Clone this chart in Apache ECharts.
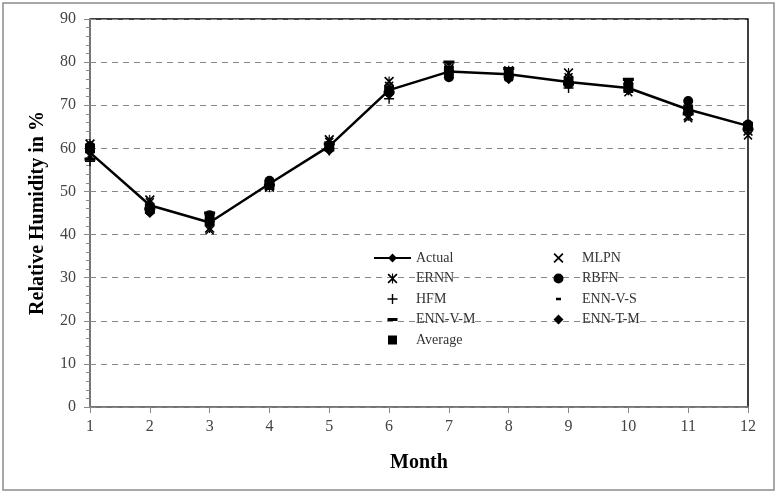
<!DOCTYPE html>
<html><head><meta charset="utf-8">
<script src="https://cdn.jsdelivr.net/npm/echarts@6/dist/echarts.min.js"></script>
<style>html,body{margin:0;padding:0;background:#fff}#c{width:779px;height:496px}</style>
</head><body><div id="c"></div>
<script>
var months = [1,2,3,4,5,6,7,8,9,10,11,12];
var actual  = [59, 46.8, 42.8, 51.8, 60.5, 73.5, 77.8, 77.2, 75.4, 74, 69, 65.2];
var mlpn    = [60, 47.5, 41, 52, 61.5, 74.5, 77, 76.5, 76.5, 73, 67, 63];
var ernn    = [61, 48, 41.5, 51, 62, 75.5, 78.5, 78, 77.5, 75, 67.5, 64];
var rbfn    = [60.5, 45.5, 44.5, 52.5, 60, 73, 76.5, 76.5, 75, 75, 71, 65.5];
var hfm     = [57, 46, 43, 51.5, 59.5, 71.5, 78, 77, 74, 73.5, 69, 65];
var ennVS   = [58, 45, 42.5, 51, 60, 73, 79.5, 78, 76, 75.5, 70, 66];
var ennVM   = [57.5, 46, 45, 51.5, 61, 73, 80, 78.5, 75, 76, 68, 64.5];
var ennTM   = [59.5, 45, 43.5, 52, 59.5, 72.5, 76.5, 76, 75.5, 73.5, 68.5, 65];
var average = [60, 46, 43, 51.5, 60.5, 73.5, 78, 77.5, 75.5, 74, 69, 65];
var yTicks = [0,10,20,30,40,50,60,70,80,90];

function pairs(v){ return months.map(function(m,i){ return [m, v[i]]; }); }
var FONT = '"Liberation Serif","Times New Roman",serif';
var BOX = 'M0,0L0.01,0L0,0.01Z M10,10L9.99,10L10,9.99Z ';
var SH = {
  x:    'M0,1.2L1.2,0L10,8.8L8.8,10Z M8.8,0L10,1.2L1.2,10L0,8.8Z',
  ast:  'M0,1.2L1.2,0L10,8.8L8.8,10Z M8.8,0L10,1.2L1.2,10L0,8.8Z M4.4,0H5.6V10H4.4Z',
  plus: 'M4.3,0H5.7V10H4.3Z M0,4.3H10V5.7H0Z',
  dashS:'M2.5,3.8H7.5V6.2H2.5Z',
  dashM:'M0,3.6H10V6.4H0Z',
  dia:  'M5,0L10,5L5,10L0,5Z',
  sq:   'M0.5,0.5H9.5V9.5H0.5Z'
};
function sym(k){ return 'path://' + BOX + SH[k]; }
function shiftPath(p, dx){
  return p.replace(/([MLH])([\d.]+)(,([\d.]+))?/g, function(m, c, a, rest, b){
    if (c === 'H') return c + (parseFloat(a)+dx);
    return c + (parseFloat(a)+dx) + (rest ? ','+b : '');
  });
}
function legIcon(k){
  if (k === 'circle') return 'path://M0,0L0.01,0L0,0.01Z M37,10L36.99,10L37,9.99Z M18.5,0A5,5 0 1 1 18.49,0Z';
  return 'path://M0,0L0.01,0L0,0.01Z M37,10L36.99,10L37,9.99Z ' + shiftPath(SH[k], 13.5);
}

function sc(name, data, symbol, size){
  return {name:name, type:'scatter', data:pairs(data), symbol:symbol, symbolSize:size,
    itemStyle:{color:'#000', opacity:1}, z:3};
}
var legText = {fontFamily:FONT, fontSize:14, color:'#333'};
var chart = echarts.init(document.getElementById('c'));
chart.setOption({
  animation:false,
  backgroundColor:'#fff',
  graphic:[{type:'rect', shape:{x:3,y:3,width:771,height:487}, style:{fill:'none', stroke:'#8c8c8c', lineWidth:1.5}}],
  grid:{left:90, right:31, top:19, bottom:89, show:true, borderColor:'#000', borderWidth:1.5, backgroundColor:'transparent'},
  legend:[
    {data:[{name:'Actual'},{name:'ERNN', icon:legIcon('ast')},{name:'HFM', icon:legIcon('plus')},
           {name:'ENN-V-M', icon:legIcon('dashM')},{name:'Average', icon:legIcon('sq')}],
     orient:'vertical', left:368, top:246, itemWidth:37, itemHeight:11, itemGap:6.5, textStyle:legText},
    {data:[{name:'MLPN', icon:legIcon('x')},{name:'RBFN', icon:legIcon('circle')},
           {name:'ENN-V-S', icon:legIcon('dashS')},{name:'ENN-T-M', icon:legIcon('dia')}],
     orient:'vertical', left:535, top:246, itemWidth:37, itemHeight:11, itemGap:6.5, textStyle:legText}
  ],
  xAxis:{type:'value', min:1, max:12, interval:1,
    name:'Month', nameLocation:'middle', nameGap:46,
    nameTextStyle:{fontFamily:FONT, fontSize:20, fontWeight:'bold', color:'#000'},
    axisLine:{lineStyle:{color:'#888', width:1.5}},
    axisTick:{show:true, length:6, lineStyle:{color:'#888'}},
    axisLabel:{fontFamily:FONT, fontSize:16, color:'#444', margin:12},
    splitLine:{show:false}},
  yAxis:{type:'value', min:0, max:90, interval:10,
    name:'Relative Humidity in %', nameLocation:'middle', nameGap:42,
    nameTextStyle:{fontFamily:FONT, fontSize:20, fontWeight:'bold', color:'#000'},
    axisLine:{show:true, lineStyle:{color:'#888', width:1.5}},
    axisTick:{show:true, length:6, lineStyle:{color:'#888'}},
    minorTick:{show:true, splitNumber:5, length:4, lineStyle:{color:'#888'}},
    axisLabel:{fontFamily:FONT, fontSize:16, color:'#444', margin:14,
      formatter:function(v){ return yTicks.indexOf(v)>=0 ? String(v) : ''; }},
    splitLine:{show:true, lineStyle:{color:'#888', type:[6,5], width:1}},
    minorSplitLine:{show:false}},
  series:[
    {name:'Actual', type:'line', data:pairs(actual), symbol:'diamond', symbolSize:9,
     lineStyle:{color:'#000', width:2.5}, itemStyle:{color:'#000'}, z:4},
    sc('MLPN', mlpn, sym('x'), 9),
    sc('ERNN', ernn, sym('ast'), 10),
    sc('RBFN', rbfn, 'circle', 10),
    sc('HFM', hfm, sym('plus'), 10),
    sc('ENN-V-S', ennVS, sym('dashS'), 10),
    sc('ENN-V-M', ennVM, sym('dashM'), 11),
    sc('ENN-T-M', ennTM, sym('dia'), 10),
    sc('Average', average, sym('sq'), 11)
  ]
});
</script></body></html>
